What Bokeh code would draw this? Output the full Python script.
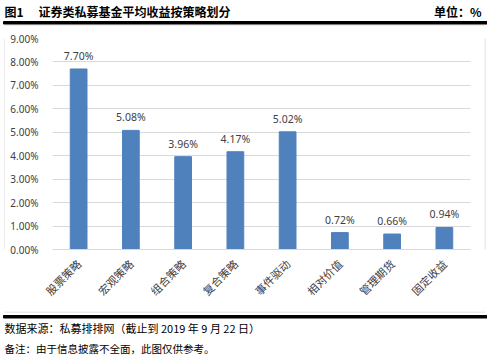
import math
from bokeh.plotting import figure
from bokeh.layouts import column, row
from bokeh.models import (FactorRange, Range1d, NumeralTickFormatter, SingleIntervalTicker,
                          ColumnDataSource)
from bokeh.embed import file_html
from bokeh.resources import INLINE
from bokeh.core.properties import value

# ---- data ----
categories = ["股票策略", "宏观策略", "组合策略", "复合策略", "事件驱动", "相对价值", "管理期货", "固定收益"]
returns_pct = [7.70, 5.08, 3.96, 4.17, 5.02, 0.72, 0.66, 0.94]
title_text = "证券类私募基金平均收益按策略划分"
fig_no = "图1"
unit_text = "单位：%"
source_text = "数据来源：私募排排网（截止到 2019 年 9 月 22 日）"
note_text = "备注：由于信息披露不全面，此图仅供参考。"

CJK = "Noto Sans CJK SC"
NUM = "Noto Sans"
BAR = "#4F81BD"
BOX = "#d9d9d9"

W, H = 487, 357
TOP_H = 26          # header strip height
BOT_Y = 311         # where footer strip starts
MAIN_H = BOT_Y - TOP_H


def strip(width, height, y0, y1, x0=0, x1=None):
    f = figure(width=width, height=height, x_range=Range1d(x0, x1 if x1 is not None else x0 + width),
               y_range=Range1d(y1, y0), output_backend="svg", toolbar_location=None,
               x_axis_type=None, y_axis_type=None, min_border=0)
    f.outline_line_color = None
    f.grid.visible = False
    f.background_fill_color = "white"
    f.border_fill_color = "white"
    return f


def put(f, text, x, y, align="left", size="12px", style="normal"):
    f.text(x=[x], y=[y], text=[text], text_align=align, text_baseline="middle",
           text_font=value(CJK), text_font_size=size, text_font_style=style, text_color="black")


# ---- header ----
top = strip(W, TOP_H, 0, TOP_H)
put(top, fig_no, 4, 11, style="bold")
put(top, title_text, 38, 11, style="bold")
put(top, unit_text, 481, 11, align="right", style="bold")
top.quad(left=[3], right=[487], top=[21], bottom=[23.5], color="black")
top.segment(x0=[4.5], x1=[484.5], y0=[25.5], y1=[25.5], line_color=BOX, line_width=1)
top.segment(x0=[4.5], x1=[4.5], y0=[25.5], y1=[26], line_color=BOX, line_width=1)
top.segment(x0=[484.5], x1=[484.5], y0=[25.5], y1=[26], line_color=BOX, line_width=1)

# ---- footer ----
bot = strip(W, H - BOT_Y, BOT_Y, H)
bot.segment(x0=[4.5], x1=[484.5], y0=[311.5], y1=[311.5], line_color=BOX, line_width=1)
bot.segment(x0=[4.5], x1=[4.5], y0=[311], y1=[311.5], line_color=BOX, line_width=1)
bot.segment(x0=[484.5], x1=[484.5], y0=[311], y1=[311.5], line_color=BOX, line_width=1)
bot.quad(left=[3], right=[487], top=[315], bottom=[317.5], color="black")
put(bot, source_text, 4, 327, size="11px")
put(bot, note_text, 4, 348, size="10.5px")

# ---- side edges of the chart box ----
left_edge = strip(5, MAIN_H, 0, MAIN_H, 0, 5)
left_edge.segment(x0=[4.5], x1=[4.5], y0=[0], y1=[MAIN_H], line_color=BOX, line_width=1)
right_edge = strip(3, MAIN_H, 0, MAIN_H, 484, 487)
right_edge.segment(x0=[484.5], x1=[484.5], y0=[0], y1=[MAIN_H], line_color=BOX, line_width=1)

# ---- main chart ----
vals = [v / 100 for v in returns_pct]
labels = [f"{v:.2f}%" for v in returns_pct]
src = ColumnDataSource(dict(cat=categories, val=vals, lab=labels))

p = figure(width=479, height=MAIN_H, x_range=FactorRange(*categories, range_padding=0),
           y_range=Range1d(0, 0.09), output_backend="svg", toolbar_location=None,
           min_border_left=47, min_border_right=14, min_border_top=12, min_border_bottom=62)
p.outline_line_color = None
p.background_fill_color = "white"
p.border_fill_color = "white"

p.vbar(x="cat", top="val", width=0.32, color=BAR, source=src)
p.text(x="cat", y="val", text="lab", source=src, text_align="center", text_baseline="middle",
       y_offset=-13, text_font=value(NUM), text_font_size="10.5px", text_color="#404040")

yax = p.yaxis[0]
yax.ticker = SingleIntervalTicker(interval=0.01)
yax.formatter = NumeralTickFormatter(format="0.00%")
yax.axis_line_color = None
yax.major_tick_line_color = None
yax.minor_tick_line_color = None
yax.major_label_text_font = NUM
yax.major_label_text_font_size = "10px"
yax.major_label_text_color = "#404040"
yax.major_label_standoff = 8

xax = p.xaxis[0]
xax.axis_line_color = BOX
xax.major_tick_line_color = None
xax.minor_tick_line_color = None
xax.major_label_orientation = math.pi / 4
xax.major_label_text_font = CJK
xax.major_label_text_font_size = "11px"
xax.major_label_text_color = "#404040"
xax.major_label_standoff = 6

p.xgrid.grid_line_color = None
p.ygrid.grid_line_color = BOX

layout = column(top, row(left_edge, p, right_edge, spacing=0), bot, spacing=0)
open("out.html", "w").write(file_html(layout, INLINE))
